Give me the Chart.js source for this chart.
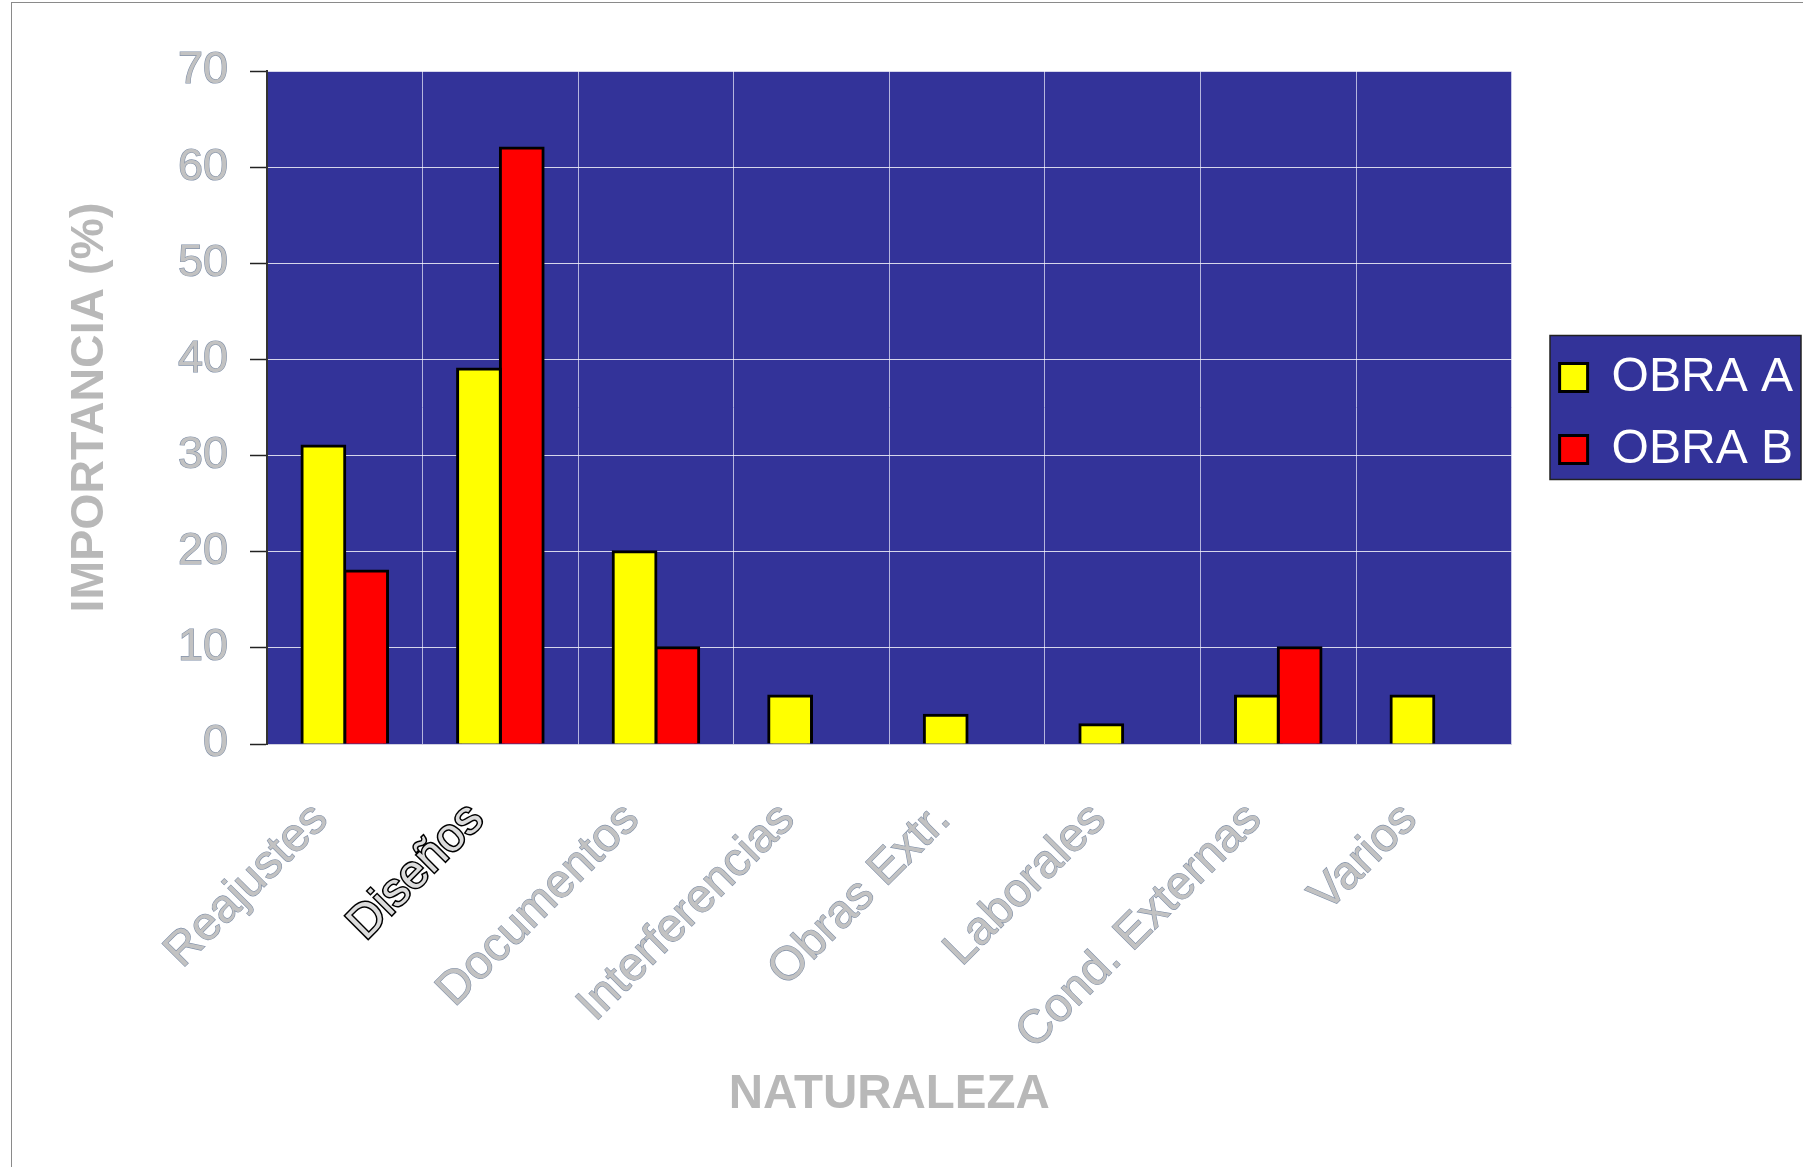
<!DOCTYPE html>
<html>
<head>
<meta charset="utf-8">
<script src="https://cdn.jsdelivr.net/npm/chart.js@4.4.0/dist/chart.umd.min.js"></script>
<style>
  html, body { margin: 0; padding: 0; background: #ffffff; overflow: hidden; }
  #frame { position: absolute; left: 11px; top: 2px; width: 2000px; height: 2000px; border: 1px solid #8a8a8a; }
  #c { position: absolute; left: 0; top: 0; }
</style>
</head>
<body>
<div id="frame"></div>
<canvas id="c" width="1803" height="1167"></canvas>
<script>
const categories = ['Reajustes', 'Diseños', 'Documentos', 'Interferencias', 'Obras Extr.', 'Laborales', 'Cond. Externas', 'Varios'];
const obraA = [31, 39, 20, 5, 3, 2, 5, 5];
const obraB = [18, 62, 10, null, null, null, 10, null];
const seriesNames = ['OBRA A', 'OBRA B'];
const yTitle = 'IMPORTANCIA (%)';
const xTitle = 'NATURALEZA';

const FONT = "'Liberation Sans', Arial, sans-serif";

const plotBg = {
  id: 'plotBg',
  beforeDraw(chart) {
    const {ctx, chartArea: a} = chart;
    ctx.save();
    ctx.fillStyle = '#333399';
    ctx.fillRect(a.left, a.top, a.right - a.left, a.bottom - a.top);
    const lg = chart.legend;
    if (lg && lg.legendHitBoxes && lg.legendHitBoxes.length) {
      const hb = lg.legendHitBoxes;
      const top = hb[0].top - 18;
      const last = hb[hb.length - 1];
      const bottom = last.top + last.height + 6;
      const left = 1550;
      const right = 1801;
      ctx.fillStyle = '#333399';
      ctx.fillRect(left, top, right - left, bottom - top);
      ctx.strokeStyle = '#222';
      ctx.lineWidth = 1.5;
      ctx.strokeRect(left, top, right - left, bottom - top);
    }
    ctx.restore();
  }
};

new Chart(document.getElementById('c'), {
  type: 'bar',
  data: {
    labels: categories,
    datasets: [
      { label: seriesNames[0], data: obraA, backgroundColor: '#ffff00', borderColor: '#000000', borderWidth: 3,
        categoryPercentage: 0.55, barPercentage: 1.0, inflateAmount: 1.5 },
      { label: seriesNames[1], data: obraB, backgroundColor: '#ff0000', borderColor: '#000000', borderWidth: 3,
        categoryPercentage: 0.55, barPercentage: 1.0, inflateAmount: 1.5 }
    ]
  },
  options: {
    responsive: false,
    animation: false,
    devicePixelRatio: 1,
    layout: { padding: { left: 62, top: 71, right: 0, bottom: 44 } },
    plugins: {
      tooltip: { enabled: false },
      legend: {
        position: 'right',
        align: 'center',
        fullSize: false,
        title: { display: true, text: ' ', font: { size: 10 }, padding: 0 },
        labels: {
          color: '#ffffff',
          font: { family: FONT, size: 48 },
          boxWidth: 28,
          boxHeight: 28,
          padding: 24
        }
      }
    },
    scales: {
      x: {
        grid: { color: 'rgba(225,225,245,0.75)', lineWidth: 1, drawTicks: false, offset: true },
        border: { display: true, color: '#d0d0e0', width: 1 },
        ticks: {
          autoSkip: false,
          minRotation: 45,
          maxRotation: 45,
          padding: 48,
          labelOffset: -24,
          font: { family: FONT, size: 47 },
          color: (c) => c.index === 1 ? '#dcdcdc' : '#c2c2c2',
          textStrokeColor: (c) => c.index === 1 ? '#000000' : '#8090a8',
          textStrokeWidth: (c) => c.index === 1 ? 3 : 1.2
        },
        title: {
          display: true,
          text: xTitle,
          color: '#b8b8b8',
          font: { family: FONT, size: 47.5, weight: 'bold' },
          padding: 0
        },
        afterFit(scale) { scale.height = 1167 - 44 - 744; }
      },
      y: {
        min: 0,
        max: 70,
        ticks: {
          stepSize: 10,
          padding: 22,
          font: { family: FONT, size: 45 },
          color: '#c2c2c2',
          textStrokeColor: '#8090a8',
          textStrokeWidth: 1.2
        },
        grid: { color: 'rgba(255,255,255,0.8)', lineWidth: 1, tickLength: 17, tickColor: '#222222', tickWidth: 1.5 },
        border: { display: true, color: '#333333', width: 2 },
        title: {
          display: true,
          text: yTitle,
          color: '#b8b8b8',
          font: { family: FONT, size: 46.5, weight: 'bold' },
          padding: 0
        },
        afterFit(scale) { scale.width = 267 - 62; }
      },
      gap: {
        type: 'linear',
        position: 'right',
        display: true,
        ticks: { display: false },
        grid: { display: false },
        border: { display: false },
        afterFit(scale) { scale.width = 24; }
      }
    }
  },
  plugins: [plotBg]
});
</script>
</body>
</html>
